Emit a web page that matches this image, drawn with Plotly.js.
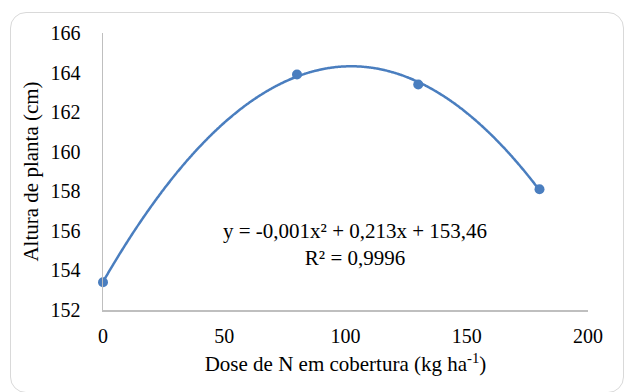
<!DOCTYPE html>
<html>
<head>
<meta charset="utf-8">
<script src="https://cdn.plot.ly/plotly-3.0.1.min.js"></script>
<style>
  html, body { margin: 0; padding: 0; background: #ffffff; }
  #wrap { position: relative; width: 627px; height: 392px; overflow: hidden; }
  #frame { position: absolute; left: 10px; top: 12px; width: 614px; height: 381px;
           border: 1.5px solid #d9d9d9; border-radius: 16px; box-sizing: border-box; }
  #chart { position: absolute; left: 0; top: 0; width: 627px; height: 392px; }
</style>
</head>
<body>
<div id="wrap">
  <div id="frame"></div>
  <div id="chart"></div>
</div>
<script>
// Data
const doses = [0, 80, 130, 180];
const heights = [153.4, 163.9, 163.4, 158.1];
const xTicks = [0, 50, 100, 150, 200];
const yTicks = [152, 154, 156, 158, 160, 162, 164, 166];
const equationText = 'y = -0,001x² + 0,213x + 153,46<br>R² = 0,9996';

// Polynomial (order 2) trendline fitted by least squares to the data
function quadFit(xs, ys) {
  let S = [0,0,0,0,0], T = [0,0,0];
  for (let i = 0; i < xs.length; i++) {
    let p = 1;
    for (let k = 0; k <= 4; k++) { S[k] += p; if (k <= 2) T[k] += p * ys[i]; p *= xs[i]; }
  }
  const A = [[S[0],S[1],S[2],T[0]],[S[1],S[2],S[3],T[1]],[S[2],S[3],S[4],T[2]]];
  for (let c = 0; c < 3; c++) {
    for (let r = c + 1; r < 3; r++) {
      const f = A[r][c] / A[c][c];
      for (let k = c; k < 4; k++) A[r][k] -= f * A[c][k];
    }
  }
  const sol = [0,0,0];
  for (let r = 2; r >= 0; r--) {
    let s = A[r][3];
    for (let k = r + 1; k < 3; k++) s -= A[r][k] * sol[k];
    sol[r] = s / A[r][r];
  }
  return sol; // c0, c1, c2
}
const coef = quadFit(doses, heights);
const xMin = Math.min(...doses), xMax = Math.max(...doses);
const fitX = [], fitY = [];
for (let i = 0; i <= 360; i++) {
  const x = xMin + (xMax - xMin) * i / 360;
  fitX.push(x);
  fitY.push(coef[0] + coef[1] * x + coef[2] * x * x);
}

const blue = '#4a7ebf';
const fam = 'Liberation Serif';
const tickFont = { family: fam, size: 20, color: '#000000' };
const titleFont = { family: fam, size: 21, color: '#000000' };

const traces = [
  { x: fitX, y: fitY, mode: 'lines', type: 'scatter', line: { color: blue, width: 2.5, shape: 'spline' }, hoverinfo: 'skip', cliponaxis: false },
  { x: doses, y: heights, mode: 'markers', type: 'scatter', marker: { color: blue, size: 10 }, cliponaxis: false }
];

const layout = {
  width: 627, height: 392,
  paper_bgcolor: 'rgba(0,0,0,0)', plot_bgcolor: 'rgba(0,0,0,0)',
  margin: { l: 103, r: 39, t: 33, b: 82 },
  showlegend: false,
  font: tickFont,
  xaxis: {
    range: [0, 200], tickvals: xTicks, ticktext: xTicks.map(String),
    showgrid: false, zeroline: false, showline: true, linecolor: '#bfbfbf', linewidth: 1.5,
    ticks: '', ticklabelstandoff: 7, tickfont: tickFont,
    title: { text: 'Dose de N em cobertura (kg ha<sup>-1</sup>)', font: titleFont, standoff: 11 }
  },
  yaxis: {
    range: [152, 166], tickvals: yTicks, ticktext: yTicks.map(String),
    showgrid: false, zeroline: false, showline: true, linecolor: '#bfbfbf', linewidth: 1.5,
    ticks: '', ticklabelstandoff: 17, tickfont: tickFont,
    title: { text: 'Altura de planta (cm)', font: titleFont, standoff: 6 }
  },
  annotations: [{
    x: 104, y: 155.33, xref: 'x', yref: 'y', text: equationText, showarrow: false,
    font: titleFont, align: 'center'
  }]
};

Plotly.newPlot('chart', traces, layout, { staticPlot: true, displayModeBar: false });
</script>
</body>
</html>
